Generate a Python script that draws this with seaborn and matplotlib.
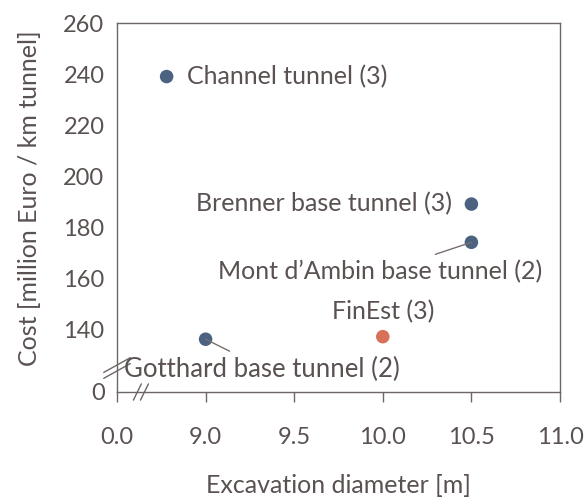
"""Cost per km of tunnel versus excavation diameter."""
import matplotlib
matplotlib.use("Agg")
import matplotlib.pyplot as plt
import pandas as pd
import seaborn as sns

sns.set_theme(style="white")
plt.rcParams["font.family"] = ["Lato", "DejaVu Sans"]

# data
tunnels = ["Channel tunnel (3)", "Brenner base tunnel (3)", "Mont d\u2019Ambin base tunnel (2)",
           "FinEst (3)", "Gotthard base tunnel (2)"]
diameter = [8.78, 10.5, 10.5, 10.0, 9.0]
cost = [239, 189, 174, 137, 136]
group = ["other", "other", "other", "finest", "other"]

x_ticks = [8.5, 9.0, 9.5, 10.0, 10.5, 11.0]
x_ticklabels = ["0.0", "9.0", "9.5", "10.0", "10.5", "11.0"]
y_ticks = [115.3, 140, 160, 180, 200, 220, 240, 260]
y_ticklabels = ["0", "140", "160", "180", "200", "220", "240", "260"]

df = pd.DataFrame({"tunnel": tunnels, "diameter": diameter, "cost": cost, "group": group})

text_col = "#5a5151"
spine_col = "#6e6666"

fig = plt.figure(figsize=(5.87, 5.04), dpi=100)
ax = fig.add_axes([117 / 587, 1 - 392 / 504, (560 - 117) / 587, (392 - 23) / 504])

sns.scatterplot(data=df, x="diameter", y="cost", hue="group",
                palette={"other": "#4b6380", "finest": "#d8705a"},
                s=95, linewidth=0, legend=False, ax=ax, zorder=3)

ax.set_xlim(8.5, 11.0)
ax.set_ylim(115.3, 260)
ax.set_xticks(x_ticks)
ax.set_xticklabels(x_ticklabels)
ax.set_yticks(y_ticks)
ax.set_yticklabels(y_ticklabels)

for sp in ax.spines.values():
    sp.set_color(spine_col)
    sp.set_linewidth(1.0)

ax.tick_params(axis="x", direction="out", length=7, width=1, color=spine_col,
               pad=18, labelsize=17, labelcolor=text_col, bottom=True)
ax.tick_params(axis="y", length=0, pad=9, labelsize=17, labelcolor=text_col)

ax.set_xlabel("Excavation diameter [m]", fontsize=18, color=text_col, labelpad=19)
ax.set_ylabel("Cost [million Euro / km tunnel]", fontsize=18, color=text_col)
ax.yaxis.set_label_coords(-0.172, 0.526)

# labels next to points (offsets in pixels)
offsets = {
    "Channel tunnel (3)": ((20, 0), "left"),
    "Brenner base tunnel (3)": ((-19, 0), "right"),
    "Mont d\u2019Ambin base tunnel (2)": ((-91, -29), "center"),
    "FinEst (3)": ((0, 25), "center"),
    "Gotthard base tunnel (2)": ((-82, -30), "left"),
}
for name, xv, yv in zip(tunnels, diameter, cost):
    (dx, dy), ha = offsets[name]
    size = 18.5 if name.startswith("Gotthard") else 18
    ax.annotate(name, (xv, yv), xytext=(dx, dy), textcoords="offset pixels",
                ha=ha, va="center", fontsize=size, color=text_col, zorder=4)

# leader lines
leaders = {
    "Mont d\u2019Ambin base tunnel (2)": (-36, -12),
    "Gotthard base tunnel (2)": (24, -12),
}
for name, xv, yv in zip(tunnels, diameter, cost):
    if name in leaders:
        ax.annotate("", (xv, yv), xytext=leaders[name], textcoords="offset pixels",
                    arrowprops=dict(arrowstyle="-", color="#7a6e6e", lw=1,
                                    shrinkA=0, shrinkB=0))

# axis break marks
for off in (-0.008, 0.008):
    ax.plot([-0.03, 0.03], [0.065 + off - 0.02, 0.065 + off + 0.02],
            transform=ax.transAxes, color=spine_col, lw=1, clip_on=False)
    ax.plot([0.054 + off - 0.009, 0.054 + off + 0.009], [-0.022, 0.022],
            transform=ax.transAxes, color=spine_col, lw=1, clip_on=False)

fig.savefig("out.png", dpi=100)
